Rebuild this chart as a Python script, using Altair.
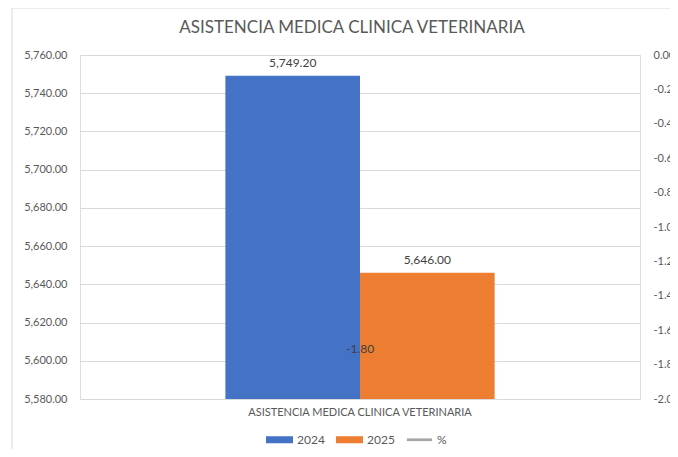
import altair as alt
import pandas as pd

# ---- data ----
category = "ASISTENCIA MEDICA CLINICA VETERINARIA"
series = ["2024", "2025"]
values = [5749.20, 5646.00]
pct_value = [-1.80]
legend_items = ["2024", "2025", "%"]
colors = ["#4472C4", "#ED7D31", "#A5A5A5"]
left_ticks = [5580, 5600, 5620, 5640, 5660, 5680, 5700, 5720, 5740, 5760]
right_ticks = [0.0, -0.2, -0.4, -0.6, -0.8, -1.0, -1.2, -1.4, -1.6, -1.8, -2.0]
y_min, y_max = 5580, 5760

bars_df = pd.DataFrame({"cat": [category] * len(series), "serie": series, "valor": values})
pct_df = pd.DataFrame({"cat": [category], "pct": pct_value})
leg_df = pd.DataFrame({"item": legend_items})
one_df = pd.DataFrame({"k": [0]})

FONT = "Lato"
TXT = "#595959"
GRID = "#d9d9d9"

x_enc = alt.X(
    "cat:N",
    scale=alt.Scale(paddingInner=0, paddingOuter=0.54),
    axis=alt.Axis(title=None, labelAngle=0, ticks=False, domain=False, labelPadding=7,
                  labelFontSize=11, labelColor=TXT, labelFont=FONT, labelLimit=500),
)
xoff = alt.XOffset("serie:N", scale=alt.Scale(domain=series, paddingInner=0, paddingOuter=0))

y_left = alt.Y(
    "valor:Q",
    scale=alt.Scale(domain=[y_min, y_max], nice=False, zero=False),
    axis=alt.Axis(values=left_ticks, tickCount=10, format=",.2f", title=None, ticks=False,
                  domain=False, grid=True, gridColor=GRID, labelPadding=13, labelFontSize=11,
                  labelColor=TXT, labelFont=FONT, labelOverlap=False),
)

bars = alt.Chart(bars_df).mark_bar().encode(
    x=x_enc, xOffset=xoff, y=y_left, y2=alt.datum(y_min),
    fill=alt.Fill("serie:N", scale=alt.Scale(domain=series, range=colors[:2]), legend=None),
)

bar_text = alt.Chart(bars_df).transform_calculate(
    lbl="format(datum.valor, ',.2f')"
).mark_text(dy=-13, fontSize=12, font=FONT, color="#404040").encode(
    x=x_enc, xOffset=xoff, y=y_left, text="lbl:N",
)

rect_path = "M-1,-0.26H1V0.26H-1Z"
line_path = "M-0.93,-0.1H0.93V0.1H-0.93Z"
leg = alt.Legend(title=None, orient="none", direction="horizontal", legendX=186, legendY=371,
                 symbolSize=729, symbolStrokeWidth=0, symbolOpacity=1, labelFontSize=12,
                 labelColor=TXT, labelFont=FONT, labelOffset=4, columnPadding=11)
legend_pts = alt.Chart(leg_df).mark_point(filled=True, opacity=0).encode(
    x=alt.value(0), y=alt.value(0),
    color=alt.Color("item:N", scale=alt.Scale(domain=legend_items, range=colors), legend=leg),
    shape=alt.Shape("item:N", scale=alt.Scale(domain=legend_items,
                                              range=[rect_path, rect_path, line_path]), legend=leg),
)

border_v = alt.Chart(one_df).mark_rule(color=GRID, strokeWidth=1).encode(
    x=alt.value(-68), y=alt.value(-47), y2=alt.value(402))
border_h = alt.Chart(one_df).mark_rule(color=GRID, strokeWidth=1).encode(
    x=alt.value(-68), x2=alt.value(600), y=alt.value(-47))

title_txt = alt.Chart(one_df).mark_text(fontSize=17, font=FONT, color=TXT).encode(
    x=alt.value(272), y=alt.value(-27), text=alt.value(category))

left = alt.layer(border_v, border_h, title_txt, bars, bar_text, legend_pts)

y_right = alt.Y(
    "pct:Q",
    scale=alt.Scale(domain=[-2, 0], nice=False, zero=False),
    axis=alt.Axis(orient="right", values=right_ticks, tickCount=11, title=None, ticks=False,
                  domain=False, grid=False, labelPadding=13, labelFontSize=11, labelColor=TXT,
                  labelFont=FONT, labelOverlap=False,
                  labelExpr="replace(format(datum.value, '.2f'), '−', '-')"),
)
pct_line = alt.Chart(pct_df).mark_line(color="#A5A5A5", strokeWidth=2.25).encode(
    x=x_enc, y=y_right)
pct_text = alt.Chart(pct_df).transform_calculate(
    lbl="replace(format(datum.pct, '.2f'), '−', '-')"
).mark_text(dy=-16, fontSize=12, font=FONT, color="#404040").encode(
    x=x_enc, y=y_right, text="lbl:N")
right = alt.layer(pct_line, pct_text)

chart = alt.layer(left, right).resolve_scale(y="independent").properties(
    width=560, height=344,
    autosize=alt.AutoSizeParams(type="none"),
    padding={"left": 72, "top": 47, "right": 30, "bottom": 50},
).configure_view(stroke=None).configure(background="white")

chart.save("out.html", embed_options={"renderer": "svg", "actions": False})
